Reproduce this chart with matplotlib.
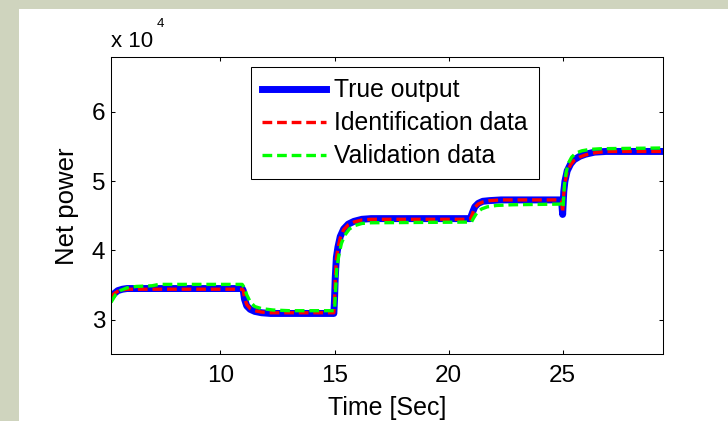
import matplotlib
matplotlib.use('Agg')
import matplotlib.pyplot as plt
from matplotlib.patches import Rectangle

plt.rcParams['font.family'] = ['Liberation Sans', 'DejaVu Sans']
plt.rcParams['lines.scale_dashes'] = False

# values, net power in units of 1e4
t_true = [5.2, 5.35, 5.5, 5.7, 5.9, 10.95, 11.0, 11.05, 11.15, 11.3, 11.5, 11.8, 12.2,
          14.97, 15.0, 15.03, 15.08, 15.15, 15.25, 15.4, 15.6, 15.85, 16.2, 16.6,
          20.95, 21.05, 21.15, 21.3, 21.5, 21.8, 22.3,
          24.95, 25.0, 25.05, 25.1, 25.2, 25.35, 25.5, 25.75, 26.0, 26.4, 26.9, 29.4]
p_true = [3.32, 3.38, 3.42, 3.44, 3.45, 3.45, 3.42, 3.30, 3.20, 3.15, 3.12, 3.10, 3.09,
          3.09, 3.30, 3.60, 3.90, 4.05, 4.20, 4.31, 4.38, 4.42, 4.45, 4.46,
          4.46, 4.55, 4.63, 4.68, 4.71, 4.72, 4.73,
          4.73, 4.52, 4.85, 5.00, 5.15, 5.25, 5.31, 5.36, 5.39, 5.42, 5.43, 5.43]

t_ident = t_true
p_ident = [3.33, 3.38, 3.41, 3.43, 3.44, 3.44, 3.42, 3.32, 3.22, 3.16, 3.13, 3.11, 3.10,
           3.10, 3.28, 3.58, 3.88, 4.03, 4.18, 4.30, 4.37, 4.41, 4.44, 4.45,
           4.45, 4.53, 4.62, 4.67, 4.70, 4.72, 4.73,
           4.73, 4.55, 4.82, 4.98, 5.13, 5.24, 5.30, 5.35, 5.38, 5.41, 5.43, 5.43]

t_valid = [5.2, 5.4, 5.6, 5.9, 6.3, 7.0, 7.3, 10.95, 11.05, 11.15, 11.3, 11.5, 11.8, 12.3, 13.0,
           15.0, 15.05, 15.1, 15.2, 15.3, 15.45, 15.65, 15.9, 16.2, 16.6,
           21.0, 21.1, 21.25, 21.45, 21.7, 22.1, 22.8,
           24.95, 25.02, 25.08, 25.15, 25.25, 25.4, 25.6, 25.85, 26.2, 26.7, 29.4]
p_valid = [3.25, 3.36, 3.42, 3.46, 3.48, 3.49, 3.51, 3.51, 3.46, 3.36, 3.26, 3.19, 3.16, 3.14, 3.13,
           3.13, 3.45, 3.75, 3.95, 4.10, 4.22, 4.31, 4.36, 4.39, 4.40,
           4.41, 4.47, 4.55, 4.60, 4.63, 4.65, 4.66,
           4.67, 4.62, 4.95, 5.12, 5.26, 5.35, 5.41, 5.44, 5.46, 5.47, 5.48]

x_ticks = [10, 15, 20, 25]
y_ticks = [3, 4, 5, 6]

fig = plt.figure(figsize=(7.28, 4.21), dpi=100, facecolor='#cfd4be')
fig.patches.append(Rectangle((19 / 728, 0), 1, 1 - 9 / 421, transform=fig.transFigure,
                             facecolor='white', edgecolor='none', zorder=-10))
ax = fig.add_axes([111 / 728, 1 - 354.3 / 421, 552 / 728, 297 / 421])

ax.plot(t_true, p_true, color='#0000ff', lw=5, solid_joinstyle='round', label='True output')
ax.plot(t_ident, p_ident, color='#ff0000', lw=2.4, dashes=(7, 3.5), label='Identification data')
ax.plot(t_valid, p_valid, color='#00ff00', lw=2.4, dashes=(7, 3.5), label='Validation data')

ax.set_xlim(5.2, 29.4)
ax.set_ylim(2.5, 6.79)
ax.set_xticks(x_ticks)
ax.set_yticks(y_ticks)
ax.tick_params(direction='in', top=True, right=True, length=3, width=0.75,
               labelsize=17.5, colors='black')
ax.tick_params(axis='x', pad=8)
ax.tick_params(axis='y', pad=4)
for s in ax.spines.values():
    s.set_linewidth(0.75)

ax.set_xlabel('Time [Sec]', fontsize=18, labelpad=6.5)
ax.set_ylabel('Net power', fontsize=18.5, labelpad=9)
# MATLAB style exponent label above the axes
ax.text(0, 1.034, 'x 10', transform=ax.transAxes, fontsize=16, ha='left', va='baseline')
ax.text(0.0833, 1.102, '4', transform=ax.transAxes, fontsize=9.5, ha='left', va='baseline')

leg = ax.legend(loc='upper left', bbox_to_anchor=(0.2536, 0.9663), borderaxespad=0,
                fontsize=17.8, fancybox=False, framealpha=1, edgecolor='black',
                handlelength=2.6, handletextpad=0.3, labelspacing=0.36, borderpad=0.45)
leg.get_frame().set_linewidth(0.75)

fig.savefig('out.png', dpi=100, facecolor=fig.get_facecolor())
